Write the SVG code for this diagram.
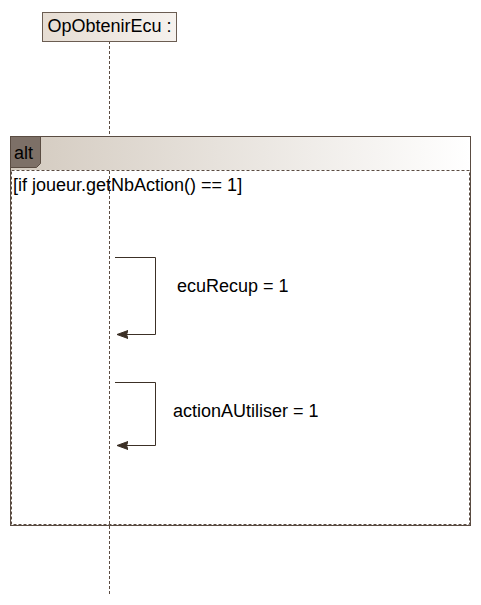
<svg xmlns="http://www.w3.org/2000/svg" width="481" height="605" viewBox="0 0 481 605">
<defs>
<linearGradient id="hdr" x1="0" y1="0" x2="1" y2="0">
<stop offset="0" stop-color="#d3cabf"/>
<stop offset="1" stop-color="#ffffff"/>
</linearGradient>
<linearGradient id="head" x1="0" y1="0" x2="1" y2="0">
<stop offset="0" stop-color="#e6ddd3"/>
<stop offset="1" stop-color="#f6f2ee"/>
</linearGradient>
<marker id="arr" markerWidth="12" markerHeight="10" refX="11" refY="5" orient="auto" markerUnits="userSpaceOnUse">
<path d="M11,5 L0,1 L1.5,5 L0,9 Z" fill="#3c3026" stroke="#3c3026" stroke-width="1"/>
</marker>
<style>
text{font-family:"Liberation Sans",Arial,sans-serif;font-size:18px;fill:#000}
.ll{stroke:#5a4c42;stroke-width:1;stroke-dasharray:3,2;fill:none}
.msg{stroke:#3c3026;stroke-width:1;fill:none}
</style>
</defs>
<g id="lifeline-OpObtenirEcu">
<line class="ll" x1="109.5" y1="41" x2="109.5" y2="594"/>
<rect x="42.5" y="12.5" width="134" height="29" fill="url(#head)" stroke="#6b5d52"/>
<text x="109.5" y="32" text-anchor="middle">OpObtenirEcu :</text>
</g>
<g id="frame-alt">
<rect x="10.5" y="136.5" width="460" height="389" fill="none" stroke="#5a4c42"/>
<rect x="11" y="137" width="459" height="33" fill="url(#hdr)"/>
<line x1="10.5" y1="136.5" x2="470.5" y2="136.5" stroke="#5a4c42"/>
<rect x="11.5" y="170.5" width="458" height="354" fill="none" stroke="#5a4c42" stroke-dasharray="3,2"/>
<path d="M10.5,136.5 H40.5 V163.5 L36.5,167.5 H10.5 Z" fill="#7d7067" stroke="#5a4c42"/>
<text x="14" y="159">alt</text>
<text x="13" y="191">[if joueur.getNbAction() == 1]</text>
</g>
<g id="connectors">
<path class="msg" d="M115,257.5 H155.5 V334.5 H117" marker-end="url(#arr)"/>
<path class="msg" d="M115,382.5 H155.5 V445.5 H117" marker-end="url(#arr)"/>
</g>
<g id="labels">
<text x="177" y="292">ecuRecup = 1</text>
<text x="173" y="417">actionAUtiliser = 1</text>
</g>
</svg>
